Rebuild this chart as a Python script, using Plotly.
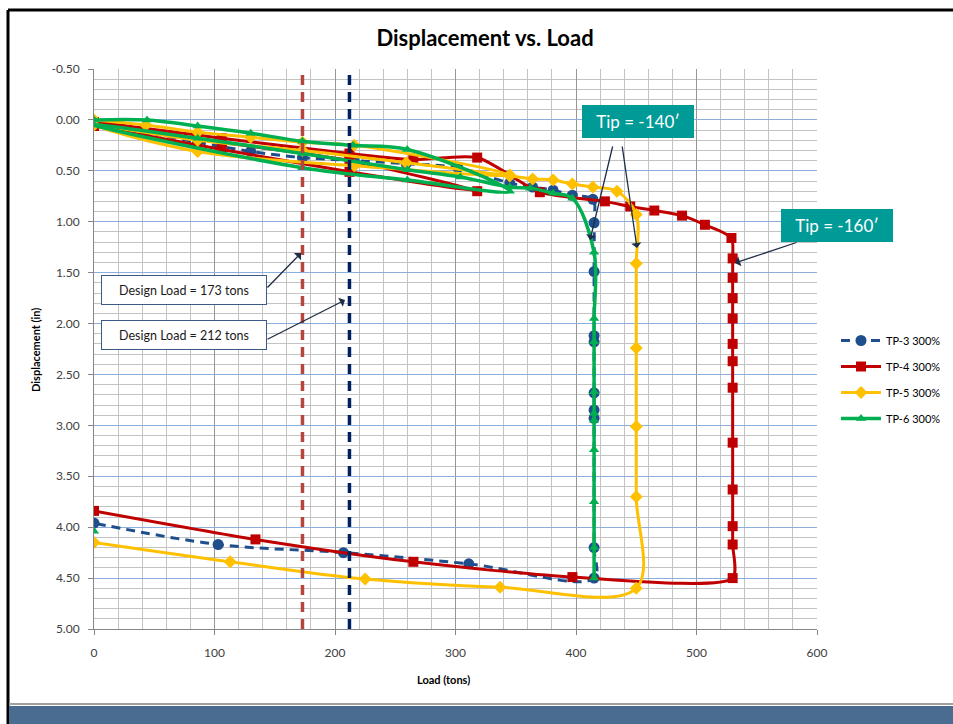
import plotly.graph_objects as go

# ---------------- data ----------------
TP3_LOAD = [0, 43, 86, 130, 173, 216, 259, 302, 345, 364, 381, 397, 414,
            415, 415, 415, 415, 415, 415, 415, 415, 415, 311, 207, 103, 0]
TP3_DISP = [0.02, 0.12, 0.22, 0.31, 0.37, 0.40, 0.43, 0.47, 0.62, 0.66, 0.69, 0.74, 0.78,
            1.01, 1.49, 2.12, 2.18, 2.68, 2.85, 2.93, 4.20, 4.50, 4.36, 4.25, 4.17, 3.96]

TP4_LOAD = [0, 106, 212, 318, 212, 106, 0, 106, 212, 265, 318, 370, 424, 445, 465, 488, 507, 529,
            530, 530, 530, 530, 530, 530, 530, 530, 530, 530, 530, 530, 397, 265, 134, 0]
TP4_DISP = [0.06, 0.29, 0.51, 0.70, 0.40, 0.22, 0.02, 0.18, 0.33, 0.39, 0.37, 0.71, 0.80, 0.85, 0.89, 0.94, 1.03, 1.16,
            1.36, 1.55, 1.75, 1.95, 2.20, 2.37, 2.63, 3.17, 3.63, 3.99, 4.17, 4.50, 4.49, 4.34, 4.12, 3.84]

TP5_LOAD = [0, 43, 86, 130, 173, 216, 345, 216, 86, 0, 86, 173, 259, 345, 364, 381, 397, 414, 434, 450,
            450, 450, 450, 450, 450, 337, 225, 113, 0]
TP5_DISP = [0.00, 0.05, 0.12, 0.17, 0.22, 0.25, 0.54, 0.45, 0.31, 0.05, 0.20, 0.30, 0.42, 0.55, 0.58, 0.59, 0.63, 0.66, 0.70, 0.93,
            1.41, 2.24, 3.01, 3.70, 4.60, 4.59, 4.51, 4.34, 4.15]

TP6_LOAD = [0, 44, 86, 130, 173, 215, 260, 345, 260, 173, 0, 86, 173, 260, 304, 345, 362, 381, 397,
            415, 415, 415, 415, 415, 415, 415, 415, 415, 415, None, 0]
TP6_DISP = [0.00, 0.00, 0.06, 0.13, 0.21, 0.25, 0.29, 0.70, 0.59, 0.47, 0.05, 0.18, 0.33, 0.49, 0.56, 0.66, 0.67, 0.72, 0.77,
            1.30, 1.95, 2.18, 2.67, 2.88, 2.95, 3.24, 3.75, 4.20, 4.50, None, 4.04]

SERIES_NAMES = ["TP-3 300%", "TP-4 300%", "TP-5 300%", "TP-6 300%"]
DESIGN_LOADS = [173, 212]
DESIGN_LABELS = ["Design Load = 173 tons", "Design Load = 212 tons"]
TIP_LABELS = ["Tip = -140\u2032", "Tip = -160\u2032"]

Y_TICK_VALS = [-0.5, 0.0, 0.5, 1.0, 1.5, 2.0, 2.5, 3.0, 3.5, 4.0, 4.5, 5.0]
Y_TICK_TEXT = ["-0.50", "0.00", "0.50", "1.00", "1.50", "2.00", "2.50", "3.00", "3.50", "4.00", "4.50", "5.00"]
X_TICK_VALS = [0, 100, 200, 300, 400, 500, 600]

# ---------------- layout helpers ----------------
W, H = 953, 724
L, R, T, B = 94, 817, 69, 629


def px(xp):
    return (xp - L) / (R - L)


def py(yp):
    return (B - yp) / (B - T)


FONT = "Lato, 'Open Sans', sans-serif"

fig = go.Figure()

styles = [
    dict(color="#1F4E8C", dash="9px,6px", width=3, symbol="circle", size=11, smooth=1.0),
    dict(color="#C00000", dash="solid", width=3, symbol="square", size=10, smooth=0.7),
    dict(color="#FFC000", dash="solid", width=3, symbol="diamond", size=10, smooth=1.0),
    dict(color="#00B050", dash="solid", width=3.5, symbol="triangle-up", size=9, smooth=1.0),
]
data = [(TP3_LOAD, TP3_DISP), (TP4_LOAD, TP4_DISP), (TP5_LOAD, TP5_DISP), (TP6_LOAD, TP6_DISP)]

for (xs, ys), name, st in zip(data, SERIES_NAMES, styles):
    fig.add_trace(go.Scatter(
        x=xs, y=ys, name=name, mode="lines+markers", legendgroup=name,
        line=dict(color=st["color"], width=st["width"], dash=st["dash"], shape="spline",
                  smoothing=st["smooth"]),
        marker=dict(symbol=st["symbol"], size=st["size"], color=st["color"], line=dict(width=0)),
        connectgaps=False,
    ))

# design load vertical dashed lines
for val, col in zip(DESIGN_LOADS, ["#B5463F", "#002060"]):
    fig.add_shape(type="line", xref="x", yref="paper", x0=val, x1=val, y0=0, y1=1,
                  line=dict(color=col, width=3.5, dash="10px,7px"), layer="above")

shapes_frame = [
    dict(type="line", xref="paper", yref="paper", x0=px(8), x1=px(953), y0=py(10), y1=py(10),
         line=dict(color="#000000", width=3)),
    dict(type="line", xref="paper", yref="paper", x0=px(8), x1=px(8), y0=py(10), y1=py(724),
         line=dict(color="#000000", width=3)),
    dict(type="rect", xref="paper", yref="paper", x0=px(9), x1=px(953), y0=py(706), y1=py(724),
         line=dict(width=0), fillcolor="#4A6C91"),
    dict(type="line", xref="paper", yref="paper", x0=px(9), x1=px(953), y0=py(704), y1=py(704),
         line=dict(color="#A0A0A0", width=2)),
]
for s in shapes_frame:
    fig.add_shape(**s)

annotations = []
for label, cy in zip(DESIGN_LABELS, [290, 335]):
    annotations.append(dict(
        xref="paper", yref="paper", x=px(184), y=py(cy), text=label, showarrow=False,
        font=dict(family=FONT, size=12.5, color="#1A1A1A"),
        bgcolor="#FFFFFF", bordercolor="#3B5B86", borderwidth=1, borderpad=1,
        width=162, height=26, xanchor="center", yanchor="middle"))
for label, cx, cy in zip(TIP_LABELS, [638, 837.5], [121, 225.5]):
    annotations.append(dict(
        xref="paper", yref="paper", x=px(cx), y=py(cy), text=label, showarrow=False,
        font=dict(family=FONT, size=17, color="#FFFFFF"),
        bgcolor="#009A97", bordercolor="#009A97", borderwidth=1, borderpad=2,
        width=106, height=27, xanchor="center", yanchor="middle"))
arrows = [((301, 253), (266, 289)), ((345, 300), (266, 340)),
          ((590, 240), (613, 145)), ((637, 248), (622, 145)), ((735, 263), (798, 242))]
for (tx, ty), (sx, sy) in arrows:
    annotations.append(dict(
        xref="paper", yref="paper", x=px(tx), y=py(ty), ax=sx - tx, ay=sy - ty,
        text="", showarrow=True, arrowhead=1, arrowsize=1.3, arrowwidth=1.3, arrowcolor="#1F2D46"))
annotations.append(dict(xref="paper", yref="paper", x=px(35), y=py(350), text="<b>Displacement (in)</b>",
                        textangle=-90, showarrow=False, xanchor="center", yanchor="middle",
                        font=dict(family=FONT, size=11, color="#000000")))
annotations.append(dict(xref="paper", yref="paper", x=px(443), y=py(679), text="<b>Load (tons)</b>",
                        showarrow=False, xanchor="center", yanchor="middle",
                        font=dict(family=FONT, size=11, color="#000000")))

fig.update_layout(
    width=W, height=H,
    margin=dict(l=L, r=W - R, t=T, b=H - B, autoexpand=False),
    paper_bgcolor="#FFFFFF", plot_bgcolor="#FFFFFF",
    title=dict(text="<b>Displacement vs. Load</b>", x=485 / W, xanchor="center",
               y=1 - 38 / H, yanchor="middle", font=dict(family=FONT, size=22, color="#000000")),
    showlegend=True,
    legend=dict(x=px(836), y=py(326), xanchor="left", yanchor="top", traceorder="grouped",
                tracegroupgap=7, font=dict(family=FONT, size=11, color="#000000"),
                bgcolor="rgba(0,0,0,0)", itemwidth=40),
    annotations=annotations,
    font=dict(family=FONT),
)

fig.update_xaxes(
    range=[0, 600], tickmode="array", tickvals=X_TICK_VALS,
    showgrid=True, gridcolor="#969696", gridwidth=1,
    minor=dict(dtick=20, tick0=0, showgrid=True, gridcolor="#C3C3C3", gridwidth=1, ticks=""),
    showline=True, linecolor="#868686", linewidth=1,
    ticks="outside", ticklen=5, tickcolor="#868686", ticklabelstandoff=8,
    zeroline=False, tickfont=dict(family=FONT, size=12, color="#404040"),
)
fig.update_yaxes(
    range=[5.0, -0.5], tickmode="array", tickvals=Y_TICK_VALS, ticktext=Y_TICK_TEXT,
    showgrid=True, gridcolor="#8CAEDC", gridwidth=1,
    minor=dict(dtick=0.1, tick0=0, showgrid=True, gridcolor="#C3C3C3", gridwidth=1, ticks=""),
    showline=True, linecolor="#868686", linewidth=1,
    ticks="outside", ticklen=5, tickcolor="#868686", ticklabelstandoff=6,
    zeroline=False, tickfont=dict(family=FONT, size=12, color="#404040"),
)

fig.write_html("out.html", config={"displayModeBar": False},
               post_script="document.body.style.margin='0';")
